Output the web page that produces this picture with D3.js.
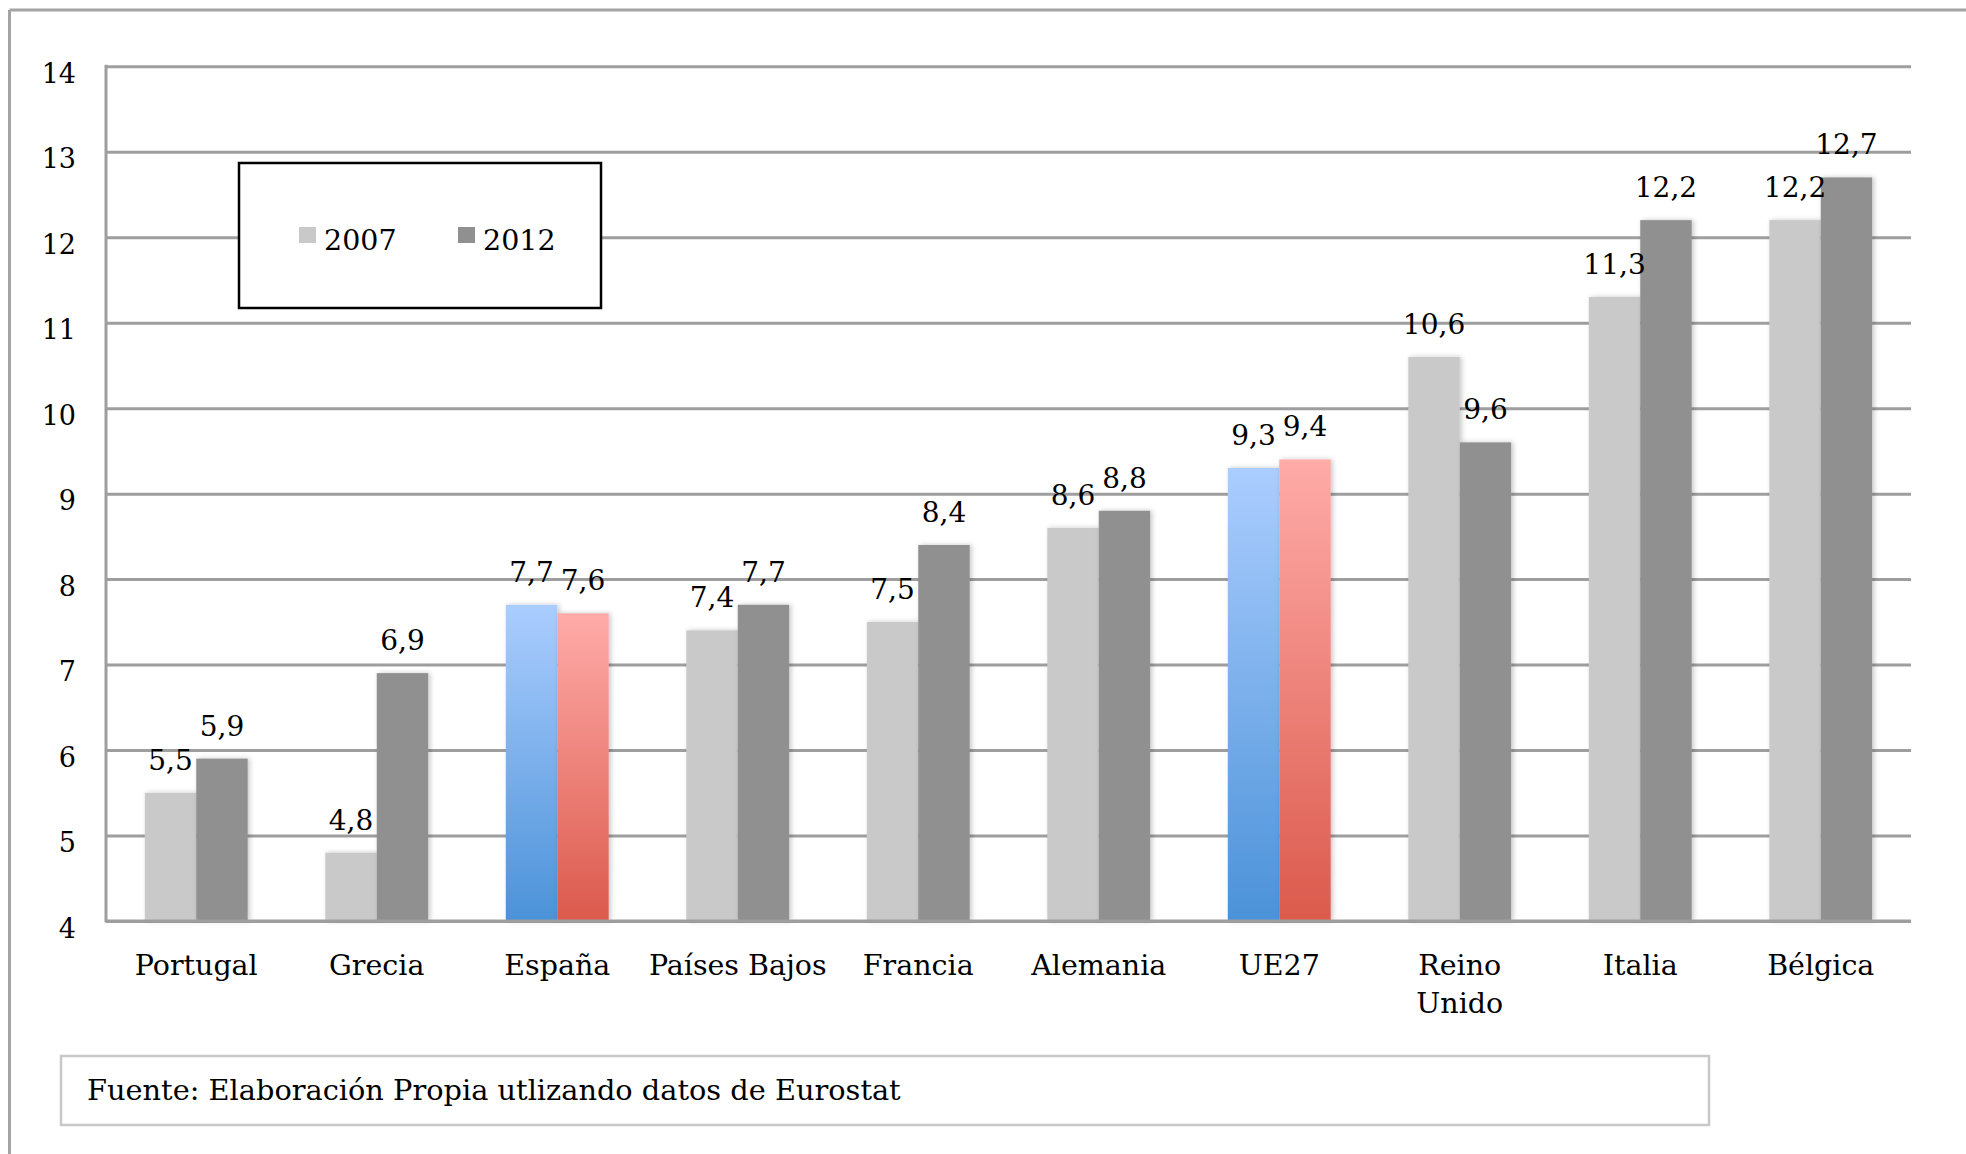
<!DOCTYPE html>
<html>
<head>
<meta charset="utf-8">
<script src="https://cdn.jsdelivr.net/npm/d3@7"></script>
<style>
  html, body { margin: 0; padding: 0; background: #fff; }
  svg { display: block; }
  text { font-family: "DejaVu Serif", "Liberation Serif", serif; fill: #000; }
</style>
</head>
<body>
<svg id="chart" width="1966" height="1154"></svg>
<script>
// ---- data ----
const categories = ["Portugal", "Grecia", "España", "Países Bajos", "Francia", "Alemania", "UE27", "Reino Unido", "Italia", "Bélgica"];
const categoryLabelLines = [["Portugal"], ["Grecia"], ["España"], ["Países Bajos"], ["Francia"], ["Alemania"], ["UE27"], ["Reino", "Unido"], ["Italia"], ["Bélgica"]];
const seriesNames = ["2007", "2012"];
const values2007 = [5.5, 4.8, 7.7, 7.4, 7.5, 8.6, 9.3, 10.6, 11.3, 12.2];
const values2012 = [5.9, 6.9, 7.6, 7.7, 8.4, 8.8, 9.4, 9.6, 12.2, 12.7];
const highlighted = ["España", "UE27"];
const yTicks = [4, 5, 6, 7, 8, 9, 10, 11, 12, 13, 14];
const sourceText = "Fuente: Elaboración Propia utlizando datos de Eurostat";

// ---- layout ----
const svg = d3.select("#chart");
const plotLeft = 106, plotRight = 1911, plotTop = 66.3, plotBottom = 921;
const gridColor = "#9e9e9e";

const x = d3.scaleBand().domain(categories).range([plotLeft, plotRight]).paddingInner(0.43).paddingOuter(0.215);
const xs = d3.scaleBand().domain(seriesNames).range([0, x.bandwidth()]);
const y = d3.scaleLinear().domain([4, 14]).range([plotBottom, plotTop]);

const locale = d3.formatLocale({decimal: ",", thousands: ".", grouping: [3], currency: ["", "€"]});
const fmt = locale.format(".1f");

// defs: gradients and shadow
const defs = svg.append("defs");
const gBlue = defs.append("linearGradient").attr("id", "gBlue").attr("x1", 0).attr("y1", 0).attr("x2", 0).attr("y2", 1);
gBlue.append("stop").attr("offset", "0%").attr("stop-color", "#abcdff");
gBlue.append("stop").attr("offset", "100%").attr("stop-color", "#4b92d8");
const gRed = defs.append("linearGradient").attr("id", "gRed").attr("x1", 0).attr("y1", 0).attr("x2", 0).attr("y2", 1);
gRed.append("stop").attr("offset", "0%").attr("stop-color", "#ffaba8");
gRed.append("stop").attr("offset", "100%").attr("stop-color", "#db5a4c");
const shadow = defs.append("filter").attr("id", "shadow").attr("x", "-20%").attr("y", "-5%").attr("width", "140%").attr("height", "110%");
shadow.append("feDropShadow").attr("dx", 2).attr("dy", 0).attr("stdDeviation", 2.5)
  .attr("flood-color", "#000").attr("flood-opacity", 0.22);

// outer frame (top and left edges visible)
svg.append("line").attr("x1", 9.5).attr("x2", 1966).attr("y1", 10).attr("y2", 10)
  .attr("stroke", "#a4a4a4").attr("stroke-width", 3);
svg.append("line").attr("x1", 9.5).attr("x2", 9.5).attr("y1", 10).attr("y2", 1154)
  .attr("stroke", "#a4a4a4").attr("stroke-width", 3);

// gridlines
const gridAxis = d3.axisLeft(y).tickValues(yTicks).tickSize(-(plotRight - plotLeft)).tickFormat("");
const gGrid = svg.append("g").attr("transform", `translate(${plotLeft},0)`).call(gridAxis);
gGrid.select(".domain").remove();
gGrid.selectAll("line").attr("stroke", gridColor).attr("stroke-width", 3);

// y axis line and labels
svg.append("line").attr("x1", plotLeft).attr("x2", plotLeft).attr("y1", plotTop - 1.5).attr("y2", plotBottom + 1.5)
  .attr("stroke", gridColor).attr("stroke-width", 3);
const yAxis = d3.axisLeft(y).tickValues(yTicks).tickSize(0).tickPadding(30).tickFormat(d3.format("d"));
const gY = svg.append("g").attr("transform", `translate(${plotLeft},0)`).call(yAxis);
gY.select(".domain").remove();
gY.selectAll("text").attr("font-size", 27).attr("font-family", "DejaVu Serif").attr("dy", "0.6em").attr("fill", "#000");

// bars
const rows = categories.map((c, i) => ({cat: c, vals: [values2007[i], values2012[i]]}));
const groups = svg.append("g").selectAll("g").data(rows).join("g")
  .attr("transform", d => `translate(${x(d.cat)},0)`);

function fillFor(cat, si) {
  if (highlighted.includes(cat)) return si === 0 ? "url(#gBlue)" : "url(#gRed)";
  return si === 0 ? "#c9c9c9" : "#909090";
}

groups.selectAll("rect").data(d => d.vals.map((v, si) => ({cat: d.cat, v, si}))).join("rect")
  .attr("x", d => xs(seriesNames[d.si]))
  .attr("width", xs.bandwidth())
  .attr("y", d => y(d.v))
  .attr("height", d => plotBottom - y(d.v))
  .attr("fill", d => fillFor(d.cat, d.si))
  .attr("filter", "url(#shadow)");

// bottom axis line (over bars)
svg.append("line").attr("x1", plotLeft).attr("x2", plotRight).attr("y1", plotBottom).attr("y2", plotBottom)
  .attr("stroke", gridColor).attr("stroke-width", 3);

// value labels
groups.selectAll("text.val").data(d => d.vals.map((v, si) => ({cat: d.cat, v, si}))).join("text")
  .attr("class", "val")
  .attr("x", d => xs(seriesNames[d.si]) + xs.bandwidth() / 2)
  .attr("y", d => y(d.v) - 23)
  .attr("text-anchor", "middle")
  .attr("font-size", 28)
  .text(d => fmt(d.v));

// x axis labels
const xAxis = d3.axisBottom(x).tickSize(0).tickPadding(0).tickFormat("");
const gX = svg.append("g").attr("transform", `translate(0,${plotBottom})`).call(xAxis);
gX.select(".domain").remove();
gX.selectAll(".tick").each(function(d, i) {
  const t = d3.select(this).append("text")
    .attr("text-anchor", "middle").attr("font-size", 28.5).attr("fill", "#000")
    .attr("font-family", "DejaVu Serif");
  categoryLabelLines[i].forEach((line, li) => {
    t.append("tspan").attr("x", 0).attr("y", 54 + li * 38).text(line);
  });
});

// legend
const legend = svg.append("g");
legend.append("rect").attr("x", 239).attr("y", 163).attr("width", 362).attr("height", 145)
  .attr("fill", "#fff").attr("stroke", "#000").attr("stroke-width", 2.5);
const legendX = [299, 458];
seriesNames.forEach((s, i) => {
  legend.append("rect").attr("x", legendX[i]).attr("y", 227).attr("width", 17).attr("height", 16)
    .attr("fill", i === 0 ? "#c9c9c9" : "#909090");
  legend.append("text").attr("x", legendX[i] + 25).attr("y", 250).attr("font-size", 28.5).text(s);
});

// source box
const src = svg.append("g");
src.append("rect").attr("x", 61).attr("y", 1056).attr("width", 1648).attr("height", 69)
  .attr("fill", "#fff").attr("stroke", "#c8c8c8").attr("stroke-width", 2.5);
src.append("text").attr("x", 87).attr("y", 1100).attr("font-size", 28.8).text(sourceText);
</script>
</body>
</html>
